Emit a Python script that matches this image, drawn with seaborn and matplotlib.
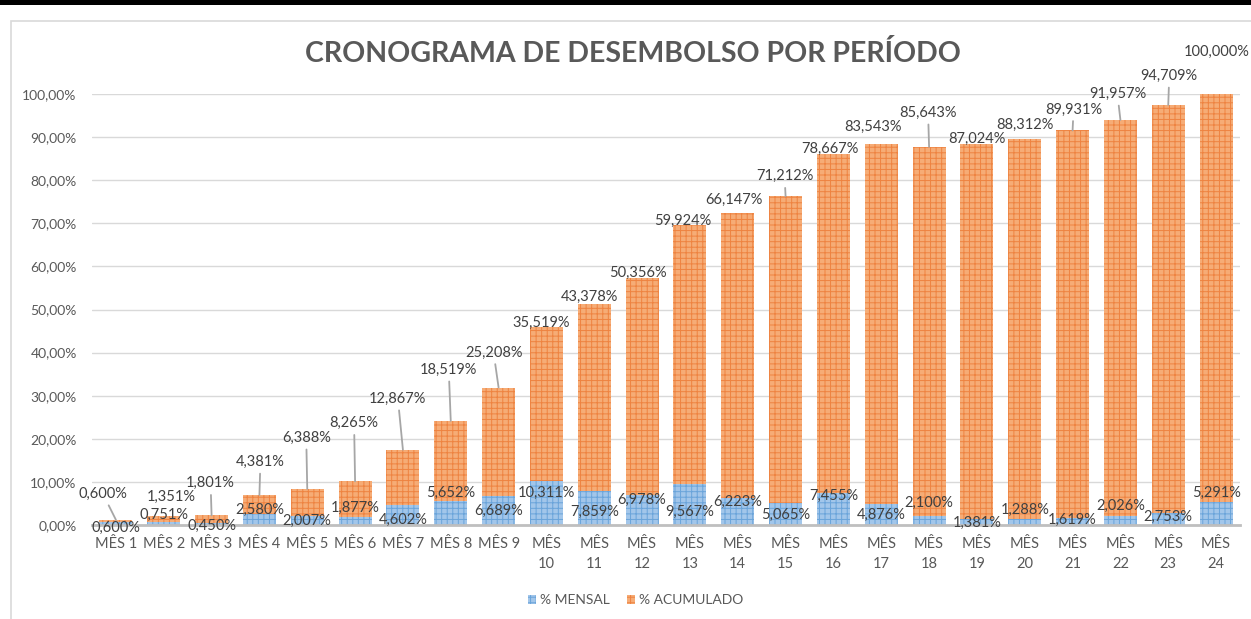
import matplotlib
matplotlib.use("Agg")
import matplotlib.pyplot as plt
import seaborn as sns
import numpy as np
import pandas as pd
from matplotlib.ticker import FuncFormatter, MultipleLocator
from matplotlib.patches import Rectangle

# ---------------- data ----------------
months = ["MÊS 1", "MÊS 2", "MÊS 3", "MÊS 4", "MÊS 5", "MÊS 6", "MÊS 7", "MÊS 8",
          "MÊS 9", "MÊS\n10", "MÊS\n11", "MÊS\n12", "MÊS\n13", "MÊS\n14", "MÊS\n15",
          "MÊS\n16", "MÊS\n17", "MÊS\n18", "MÊS\n19", "MÊS\n20", "MÊS\n21", "MÊS\n22",
          "MÊS\n23", "MÊS\n24"]
mensal = [0.600, 0.751, 0.450, 2.580, 2.007, 1.877, 4.602, 5.652, 6.689, 10.311,
          7.859, 6.978, 9.567, 6.223, 5.065, 7.455, 4.876, 2.100, 1.381, 1.288,
          1.619, 2.026, 2.753, 5.291]
acumulado = [0.600, 1.351, 1.801, 4.381, 6.388, 8.265, 12.867, 18.519, 25.208, 35.519,
             43.378, 50.356, 59.924, 66.147, 71.212, 78.667, 83.543, 85.643, 87.024,
             88.312, 89.931, 91.957, 94.709, 100.000]
series_names = ["% MENSAL", "% ACUMULADO"]
title = "CRONOGRAMA DE DESEMBOLSO POR PERÍODO"

# label placement (pixel offsets, as manually arranged in the original chart)
acum_dx = [-13, 7, -1, 1, -1, -1, -5, -2, -5, -5, -5, -4, -7, -4, -1, -3, -8, -1, 0, 0, 1, -3, 1, 1]
acum_dy = [26, 19, 32, 33, 51, 58, 51, 51, 35, 5, 7.5, 5, 4.5, 13, 20, 5, 17, 34, 5, 14, 21, 26, 29, 42]
leader = [1, 3, 4, 5, 6, 7, 8, 9, 15, 18, 21, 22, 23]
mensal_dy = [-5.6, 7, -3, 4, -5, 9, -15, 7.6, -15, -12.4, -21, -5, -28, -4, -12, -3, -11, 13,
             -4, 10, -2, 10, -4, 9]

# ---------------- style ----------------
sns.set_style("white")
plt.rcParams["font.family"] = ["Lato", "DejaVu Sans"]
plt.rcParams["hatch.linewidth"] = 0.7

ORANGE_FACE = "#F6AC76"
ORANGE_LINE = "#EE8341"
BLUE_FACE = "#A2C6EA"
BLUE_LINE = "#6AA4DA"
TICK_C = "#595959"
LABEL_C = "#404040"

df = pd.DataFrame({"month": months, "mensal": mensal, "acumulado": acumulado})
df["total"] = df["mensal"] + df["acumulado"]

fig = plt.figure(figsize=(12.51, 6.19), dpi=100)
ax = fig.add_axes([92 / 1251, 1 - 525 / 619, (1240 - 92) / 1251, (525 - 94) / 619])

sns.barplot(data=df, x="month", y="total", color=ORANGE_FACE, saturation=1, width=0.69,
            hatch="+++", edgecolor=ORANGE_LINE, linewidth=0, ax=ax, zorder=2,
            label=series_names[1])
sns.barplot(data=df, x="month", y="mensal", color=BLUE_FACE, saturation=1, width=0.69,
            hatch="+++", edgecolor=BLUE_LINE, linewidth=0, ax=ax, zorder=3,
            label=series_names[0])
if ax.get_legend() is not None:
    ax.get_legend().remove()

ax.set_ylim(0, 100)
ax.set_xlim(-0.5, len(months) - 0.5)
ax.yaxis.set_major_locator(MultipleLocator(10))
ax.yaxis.set_major_formatter(FuncFormatter(lambda v, p: f"{v:.2f}%".replace(".", ",")))
ax.yaxis.grid(True, color="#D9D9D9", lw=1, zorder=0)
ax.set_axisbelow(True)
for s in ["top", "right", "left"]:
    ax.spines[s].set_visible(False)
ax.spines["bottom"].set_color("#BFBFBF")
ax.spines["bottom"].set_linewidth(2)
ax.spines["bottom"].set_zorder(4)
ax.tick_params(axis="y", length=0, pad=11, labelsize=10, labelcolor=TICK_C)
ax.tick_params(axis="x", length=0, pad=9, labelsize=10.5, labelcolor=TICK_C)
for t in ax.get_xticklabels():
    t.set_linespacing(1.5)
    t.set_verticalalignment("top")
ax.set_xlabel("")
ax.set_ylabel("")

# labels
for i in range(len(months)):
    top = min(df["total"][i], 100)
    kw = {}
    if (i + 1) in leader:
        kw["arrowprops"] = dict(arrowstyle="-", color="#A6A6A6", lw=1.3, shrinkA=1, shrinkB=0)
    ax.annotate(f"{acumulado[i]:.3f}%".replace(".", ","), xy=(i, top),
                xytext=(acum_dx[i], acum_dy[i]), textcoords="offset pixels",
                ha="center", va="center", fontsize=10.5, color=LABEL_C,
                annotation_clip=False, zorder=6, **kw)
    ax.annotate(f"{mensal[i]:.3f}%".replace(".", ","), xy=(i, mensal[i]),
                xytext=(0, mensal_dy[i]), textcoords="offset pixels",
                ha="center", va="center", fontsize=10.5, color=LABEL_C,
                annotation_clip=False, zorder=6)

# legend
h = ax.containers
fig.legend([h[1], h[0]], series_names, loc="center", bbox_to_anchor=(0.508, 1 - 600 / 619),
           ncol=2, frameon=False, fontsize=10, labelcolor=TICK_C, handlelength=0.6,
           handleheight=0.6, handletextpad=0.3, columnspacing=1.2)

# title
fig.text(0.506, 1 - 53 / 619, title, ha="center", va="center", fontsize=20.5,
         fontweight="bold", color="#595959")

# chart frame and top black bar
fig.patches.append(Rectangle((10.5 / 1251, -0.05), 1.1, 1 - 20.5 / 619 + 0.05,
                             transform=fig.transFigure, fill=False, edgecolor="#D9D9D9",
                             lw=1.2, zorder=0))
fig.patches.append(Rectangle((0, 1 - 5 / 619), 1, 5 / 619, transform=fig.transFigure,
                             facecolor="black", edgecolor="none", zorder=10))

fig.savefig("out.png", dpi=100)
